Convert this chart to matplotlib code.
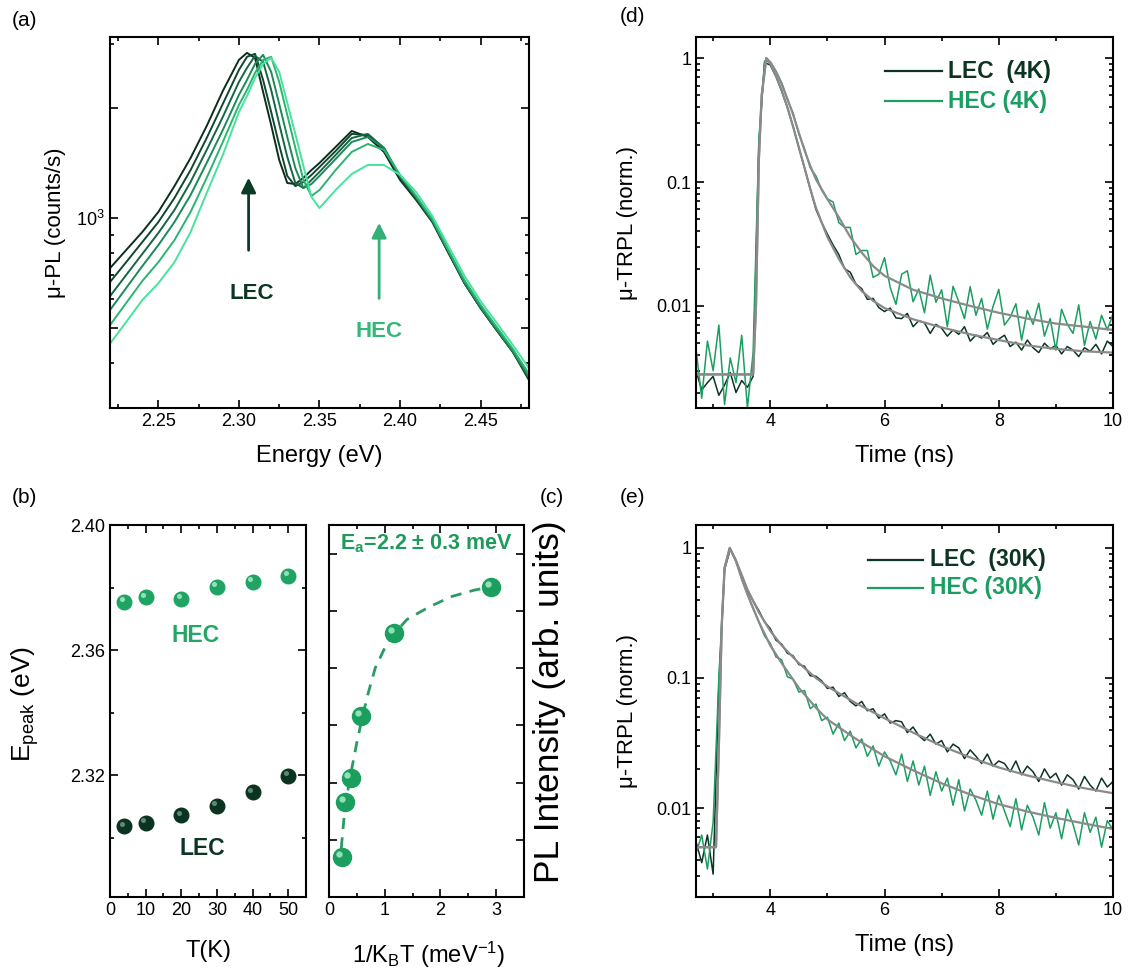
import numpy as np
import matplotlib.pyplot as plt
from matplotlib.ticker import MultipleLocator, FixedLocator, FixedFormatter, LogLocator, NullFormatter
from matplotlib.transforms import offset_copy

plt.rcParams['font.family'] = ['Liberation Sans', 'DejaVu Sans']
plt.rcParams['mathtext.fontset'] = 'custom'
plt.rcParams['mathtext.rm'] = 'Liberation Sans'
plt.rcParams['mathtext.it'] = 'Liberation Sans:italic'
plt.rcParams['mathtext.bf'] = 'Liberation Sans:bold'
plt.rcParams['axes.linewidth'] = 1.5

# ---- (a) micro-PL spectra, 4K .. 50K
energia = [2.220, 2.230, 2.240, 2.250, 2.260, 2.270, 2.280, 2.290, 2.300, 2.305, 2.310,
           2.315, 2.320, 2.325, 2.330, 2.335, 2.340, 2.345, 2.350, 2.360, 2.370, 2.380,
           2.390, 2.400, 2.410, 2.420, 2.430, 2.440, 2.450, 2.460, 2.470, 2.480]
pl_4K = [729, 817, 915, 1039, 1223, 1460, 1786, 2228, 2710, 2832, 2745, 2214, 1798, 1442, 1247, 1239,
         1288, 1353, 1415, 1565, 1731, 1667, 1517, 1271, 1120, 975, 802, 663, 567, 493, 430, 360]
pl_10K = [668, 757, 859, 975, 1135, 1353, 1656, 2053, 2544, 2762, 2815, 2388, 1951, 1585, 1304, 1223,
          1255, 1312, 1379, 1526, 1699, 1688, 1536, 1288, 1127, 981, 807, 663, 567, 493, 430, 365]
pl_20K = [611, 698, 797, 910, 1052, 1255, 1536, 1891, 2358, 2577, 2780, 2676, 2242, 1809, 1470, 1247,
          1208, 1271, 1337, 1488, 1656, 1699, 1556, 1296, 1135, 981, 807, 663, 567, 493, 430, 365]
pl_30K = [560, 643, 738, 843, 975, 1156, 1415, 1742, 2173, 2388, 2643, 2797, 2512, 2053, 1667, 1370,
          1208, 1239, 1304, 1451, 1615, 1667, 1556, 1304, 1142, 987, 812, 668, 571, 496, 432, 367]
pl_40K = [509, 585, 672, 757, 870, 1039, 1288, 1615, 2040, 2242, 2497, 2710, 2762, 2358, 1915, 1556,
          1271, 1149, 1193, 1353, 1517, 1595, 1536, 1312, 1149, 994, 817, 676, 578, 503, 438, 374]
pl_50K = [453, 519, 596, 663, 757, 915, 1171, 1488, 1951, 2159, 2419, 2643, 2745, 2512, 2066, 1699,
          1388, 1142, 1065, 1193, 1320, 1397, 1397, 1312, 1178, 1013, 838, 694, 592, 516, 449, 388]
espectros = [pl_4K, pl_10K, pl_20K, pl_30K, pl_40K, pl_50K]
colores_pl = ['#0b2e1e', '#10472f', '#156645', '#1c8a58', '#2ab472', '#46e39c']

# ---- (b) peak energies and PL intensity
temperaturas = [4, 10, 20, 30, 40, 50]
e_hec = [2.3755, 2.3769, 2.3764, 2.3803, 2.3818, 2.3837]
e_lec = [2.3037, 2.3047, 2.3072, 2.3102, 2.3145, 2.3198]
inv_kt = [0.232, 0.290, 0.387, 0.580, 1.160, 2.901]
intensidad = [0.70, 1.66, 2.08, 3.17, 4.61, 5.42]
ajuste_x = [0.22, 0.29, 0.40, 0.50, 0.60, 0.70, 0.83, 1.00, 1.17, 1.40, 1.80, 2.20, 2.60, 2.91]
ajuste_y = [0.85, 1.60, 2.20, 2.70, 3.15, 3.55, 4.00, 4.35, 4.60, 4.85, 5.07, 5.25, 5.36, 5.42]

# ---- (d) TRPL 4K  (t = 2.7 ... 10.0 ns, step 0.1)
t_d = [round(2.7 + 0.1 * i, 1) for i in range(74)]
lec_4K = [0.0030, 0.0021, 0.0024, 0.0027, 0.0019, 0.0023, 0.0029, 0.0020, 0.0025, 0.0022,
          0.0027, 0.20, 0.92, 0.88, 0.71, 0.54, 0.40, 0.28, 0.19, 0.13,
          0.088, 0.060, 0.047, 0.038, 0.031, 0.026, 0.020, 0.0187, 0.0150, 0.0138,
          0.0113, 0.0115, 0.0097, 0.0090, 0.0096, 0.0080, 0.0079, 0.0087, 0.0068, 0.0076,
          0.0073, 0.0060, 0.0071, 0.0066, 0.0057, 0.0064, 0.0059, 0.0068, 0.0052, 0.0058,
          0.0055, 0.0061, 0.0049, 0.0054, 0.0058, 0.0047, 0.0051, 0.0044, 0.0053, 0.0046,
          0.0042, 0.0050, 0.0045, 0.0048, 0.0041, 0.0047, 0.0044, 0.0039, 0.0046, 0.0043,
          0.0049, 0.0041, 0.0052, 0.0047]
hec_4K = [0.0045, 0.0018, 0.0052, 0.0030, 0.0070, 0.0016, 0.0038, 0.0024, 0.0058, 0.0015,
          0.0042, 0.22, 0.95, 0.93, 0.78, 0.63, 0.46, 0.36, 0.245, 0.185,
          0.13, 0.112, 0.086, 0.073, 0.069, 0.047, 0.043, 0.043, 0.026, 0.028,
          0.028, 0.017, 0.018, 0.0245, 0.0141, 0.0103, 0.018, 0.0192, 0.0108, 0.0137,
          0.0088, 0.0177, 0.0107, 0.0135, 0.0068, 0.0144, 0.0108, 0.0079, 0.0143, 0.0084,
          0.0115, 0.0065, 0.0099, 0.0136, 0.0070, 0.0081, 0.0104, 0.0053, 0.0092, 0.0071,
          0.0105, 0.0057, 0.0079, 0.0044, 0.0094, 0.0071, 0.0060, 0.0102, 0.0048, 0.0075,
          0.0054, 0.0084, 0.0064, 0.0086]
fit_t_d = [2.7, 3.7, 3.75, 3.8, 3.85, 3.93, 4.0, 4.1, 4.2, 4.3, 4.4, 4.5, 4.6, 4.7, 4.8, 5.0,
           5.2, 5.4, 5.6, 5.8, 6.0, 6.5, 7.0, 7.5, 8.0, 8.5, 9.0, 9.5, 10.0]
fit_lec_4K = [0.0028, 0.0028, 0.01, 0.15, 0.5, 1.0, 0.9, 0.72, 0.55, 0.40, 0.28, 0.19, 0.13, 0.088,
              0.062, 0.036, 0.024, 0.017, 0.0132, 0.0110, 0.0096, 0.0078, 0.0067, 0.0059, 0.0053,
              0.0048, 0.0045, 0.0043, 0.0042]
fit_hec_4K = [0.0028, 0.0028, 0.01, 0.15, 0.5, 1.0, 0.93, 0.78, 0.62, 0.47, 0.35, 0.25, 0.18, 0.135,
              0.105, 0.073, 0.052, 0.036, 0.027, 0.021, 0.0175, 0.0135, 0.0115, 0.0100, 0.0088,
              0.0079, 0.0072, 0.0068, 0.0064]

# ---- (e) TRPL 30K  (t = 2.7 ... 10.0 ns, step 0.1)
t_e = [round(2.7 + 0.1 * i, 1) for i in range(74)]
lec_30K = [0.0055, 0.0038, 0.0062, 0.0031, 0.09, 0.68, 0.98, 0.80, 0.61, 0.47,
           0.39, 0.33, 0.27, 0.24, 0.195, 0.182, 0.155, 0.148, 0.127, 0.123,
           0.104, 0.103, 0.095, 0.083, 0.085, 0.072, 0.077, 0.066, 0.061, 0.066,
           0.056, 0.058, 0.049, 0.053, 0.045, 0.047, 0.046, 0.038, 0.042, 0.036,
           0.033, 0.037, 0.031, 0.033, 0.027, 0.031, 0.029, 0.024, 0.028, 0.025,
           0.022, 0.026, 0.021, 0.023, 0.022, 0.019, 0.023, 0.018, 0.021, 0.019,
           0.016, 0.020, 0.017, 0.0185, 0.015, 0.018, 0.0165, 0.014, 0.0175, 0.015,
           0.0135, 0.017, 0.0145, 0.016]
hec_30K = [0.0045, 0.0062, 0.0034, 0.0078, 0.10, 0.70, 0.98, 0.79, 0.58, 0.44,
           0.34, 0.27, 0.21, 0.185, 0.145, 0.138, 0.102, 0.098, 0.078, 0.080,
           0.058, 0.063, 0.047, 0.050, 0.037, 0.045, 0.033, 0.039, 0.029, 0.034,
           0.025, 0.030, 0.021, 0.027, 0.023, 0.018, 0.026, 0.016, 0.023, 0.015,
           0.021, 0.0125, 0.019, 0.0135, 0.017, 0.0105, 0.0165, 0.0095, 0.014, 0.0115,
           0.0088, 0.0135, 0.0082, 0.0125, 0.0095, 0.0072, 0.0118, 0.0068, 0.0105, 0.0085,
           0.0062, 0.0110, 0.0070, 0.0092, 0.0058, 0.0098, 0.0075, 0.0052, 0.0092, 0.0065,
           0.0085, 0.0050, 0.0080, 0.0068]
fit_t_e = [2.7, 3.05, 3.1, 3.15, 3.2, 3.29, 3.4, 3.5, 3.6, 3.8, 4.0, 4.2, 4.5, 4.8, 5.0, 5.5,
           6.0, 6.5, 7.0, 7.5, 8.0, 8.5, 9.0, 9.5, 10.0]
fit_lec_30K = [0.005, 0.005, 0.03, 0.25, 0.7, 1.0, 0.8, 0.62, 0.48, 0.32, 0.23, 0.178, 0.13, 0.10,
               0.086, 0.064, 0.049, 0.038, 0.030, 0.0245, 0.0205, 0.0178, 0.0158, 0.0142, 0.0130]
fit_hec_30K = [0.005, 0.005, 0.03, 0.25, 0.7, 1.0, 0.79, 0.58, 0.44, 0.27, 0.178, 0.13, 0.084, 0.059,
               0.048, 0.034, 0.025, 0.0195, 0.0155, 0.0127, 0.0107, 0.0094, 0.0084, 0.0076, 0.0069]

verde_osc = '#0c3422'
verde = '#1b9e62'
gris = '#8a8a8a'

fig = plt.figure(figsize=(11.29, 9.73), dpi=100)
W, H = 1129.0, 973.0


def caja(x0, x1, y0, y1):
    return fig.add_axes([x0 / W, 1 - y1 / H, (x1 - x0) / W, (y1 - y0) / H])


def ticks(ax, size=13):
    ax.tick_params(which='both', direction='in', top=True, right=True, labelsize=size, width=1.2)
    ax.tick_params(which='major', length=6)
    ax.tick_params(which='minor', length=3)


def esfera(ax, x, y, color, brillo, ms):
    ax.plot(x, y, 'o', ms=ms, color=color, mec=color, ls='none', zorder=3)
    tr = offset_copy(ax.transData, fig=fig, x=-ms * 0.17, y=ms * 0.17, units='points')
    ax.plot(x, y, 'o', ms=ms * 0.35, color=brillo, mec='none', ls='none', transform=tr,
            zorder=4, alpha=0.85)


# ---------------- (a)
ax_a = caja(110, 529, 37, 408)
for esp, c in zip(espectros, colores_pl):
    ax_a.plot(energia, esp, color=c, lw=1.4)
ax_a.set_yscale('log')
ax_a.set_xlim(2.22, 2.48)
ax_a.set_ylim(302, 3130)
ax_a.xaxis.set_major_locator(MultipleLocator(0.05))
ax_a.xaxis.set_minor_locator(MultipleLocator(0.025))
ax_a.xaxis.set_major_formatter(plt.FormatStrFormatter('%.2f'))
ax_a.yaxis.set_major_locator(FixedLocator([500, 1000, 2000]))
ax_a.yaxis.set_major_formatter(FixedFormatter(['', '$10^3$', '']))
ax_a.yaxis.set_minor_locator(LogLocator(subs=np.arange(2, 10)))
ax_a.yaxis.set_minor_formatter(NullFormatter())
ticks(ax_a)
ax_a.set_xlabel('Energy (eV)', fontsize=17)
ax_a.xaxis.set_label_coords(0.5, -0.1)
ax_a.set_ylabel('μ-PL (counts/s)', fontsize=16)
ax_a.yaxis.set_label_coords(-0.105, 0.5)
ax_a.annotate('', xy=(2.306, 1312), xytext=(2.306, 802),
              arrowprops=dict(arrowstyle='-|>', color='#0d3a26', lw=2, mutation_scale=22))
ax_a.text(2.308, 623, 'LEC', color='#0d3524', fontsize=16, fontweight='bold', ha='center', va='center')
ax_a.annotate('', xy=(2.387, 987), xytext=(2.387, 592),
              arrowprops=dict(arrowstyle='-|>', color='#33b077', lw=2, mutation_scale=22))
ax_a.text(2.387, 490, 'HEC', color='#35b77a', fontsize=16, fontweight='bold', ha='center', va='center')

# ---------------- (b) left
ax_b = caja(110, 306, 525, 897)
esfera(ax_b, temperaturas, e_hec, '#1fa463', '#a6ecc8', 10.5)
esfera(ax_b, temperaturas, e_lec, '#0b3322', '#6f9584', 10.5)
ax_b.set_xlim(0, 55)
ax_b.set_ylim(2.281, 2.40)
ax_b.xaxis.set_major_locator(MultipleLocator(10))
ax_b.xaxis.set_minor_locator(MultipleLocator(5))
ax_b.yaxis.set_major_locator(MultipleLocator(0.04))
ax_b.yaxis.set_minor_locator(MultipleLocator(0.02))
ax_b.yaxis.set_major_formatter(plt.FormatStrFormatter('%.2f'))
ticks(ax_b)
ax_b.text(24.1, 2.3648, 'HEC', color='#22a865', fontsize=16.5, fontweight='bold', ha='center', va='center')
ax_b.text(25.8, 2.2965, 'LEC', color='#0d3524', fontsize=16.5, fontweight='bold', ha='center', va='center')
ax_b.set_xlabel('T(K)', fontsize=17)
ax_b.xaxis.set_label_coords(0.5, -0.115)
ax_b.set_ylabel(r'E$_{\rm peak}$ (eV)', fontsize=19)
ax_b.yaxis.set_label_coords(-0.35, 0.52)

# ---------------- (b) right
ax_c = caja(329, 524, 525, 897)
ax_c.plot(ajuste_x, ajuste_y, ls=(0, (4, 3)), color='#2a9a66', lw=2, zorder=2)
esfera(ax_c, inv_kt, intensidad, '#1c9e5e', '#a6ecc8', 13)
ax_c.set_xlim(0, 3.5)
ax_c.set_ylim(0, 6.5)
ax_c.xaxis.set_major_locator(MultipleLocator(1))
ax_c.xaxis.set_minor_locator(MultipleLocator(0.5))
ax_c.yaxis.set_major_locator(MultipleLocator(1))
ticks(ax_c)
ax_c.tick_params(axis='y', labelleft=False)
ax_c.text(1.75, 6.18, r'E$_\mathbf{a}$=2.2 ± 0.3 meV', color='#1f9a5c', fontsize=15.5,
          fontweight='bold', ha='center', va='center')
ax_c.set_xlabel(r'1/K$_{\rm B}$T (meV$^{-1}$)', fontsize=17)
ax_c.xaxis.set_label_coords(0.51, -0.115)

fig.text(550 / W, 1 - 702 / H, 'PL Intensity (arb. units)', rotation=90, fontsize=25.5,
         ha='center', va='center')


def trpl(ax, t, lec, hec, ft, flec, fhec, ylim, leyenda, ley_pos):
    ax.plot(t, lec, color=verde_osc, lw=1.1)
    ax.plot(t, hec, color=verde, lw=1.1)
    ax.plot(ft, flec, color=gris, lw=1.6)
    ax.plot(ft, fhec, color=gris, lw=1.6)
    ax.set_yscale('log')
    ax.set_xlim(2.7, 10)
    ax.set_ylim(*ylim)
    ax.xaxis.set_major_locator(FixedLocator([4, 6, 8, 10]))
    ax.xaxis.set_minor_locator(FixedLocator([3, 5, 7, 9]))
    ax.yaxis.set_major_locator(FixedLocator([0.01, 0.1, 1]))
    ax.yaxis.set_major_formatter(FixedFormatter(['0.01', '0.1', '1']))
    ax.yaxis.set_minor_locator(LogLocator(subs=np.arange(2, 10)))
    ax.yaxis.set_minor_formatter(NullFormatter())
    ticks(ax)
    ax.set_xlabel('Time (ns)', fontsize=17)
    ax.xaxis.set_label_coords(0.5, -0.1)
    ax.set_ylabel('μ-TRPL (norm.)', fontsize=16)
    ax.yaxis.set_label_coords(-0.14, 0.5)
    x0, x1, xt, y1, y2 = ley_pos
    for (txt, c), yy in zip(zip(leyenda, [verde_osc, verde]), [y1, y2]):
        ax.plot([x0, x1], [yy, yy], color=c, lw=1.6, transform=ax.transAxes)
        ax.text(xt, yy, txt, color=c, fontsize=16.5, fontweight='bold', va='center',
                transform=ax.transAxes)


ax_d = caja(696, 1113, 37, 408)
trpl(ax_d, t_d, lec_4K, hec_4K, fit_t_d, fit_lec_4K, fit_hec_4K, (0.0015, 1.48),
     ['LEC  (4K)', 'HEC (4K)'], (0.453, 0.590, 0.604, 0.908, 0.827))

ax_e = caja(696, 1113, 525, 897)
trpl(ax_e, t_e, lec_30K, hec_30K, fit_t_e, fit_lec_30K, fit_hec_30K, (0.00207, 1.50),
     ['LEC  (30K)', 'HEC (30K)'], (0.412, 0.544, 0.561, 0.906, 0.831))

fig.text(12 / W, 1 - 20 / H, '(a)', fontsize=15, va='center')
fig.text(12 / W, 1 - 497 / H, '(b)', fontsize=15, va='center')
fig.text(540 / W, 1 - 497 / H, '(c)', fontsize=15, va='center')
fig.text(620 / W, 1 - 16 / H, '(d)', fontsize=15, va='center')
fig.text(620 / W, 1 - 497 / H, '(e)', fontsize=15, va='center')

fig.savefig('out.png', dpi=100)
